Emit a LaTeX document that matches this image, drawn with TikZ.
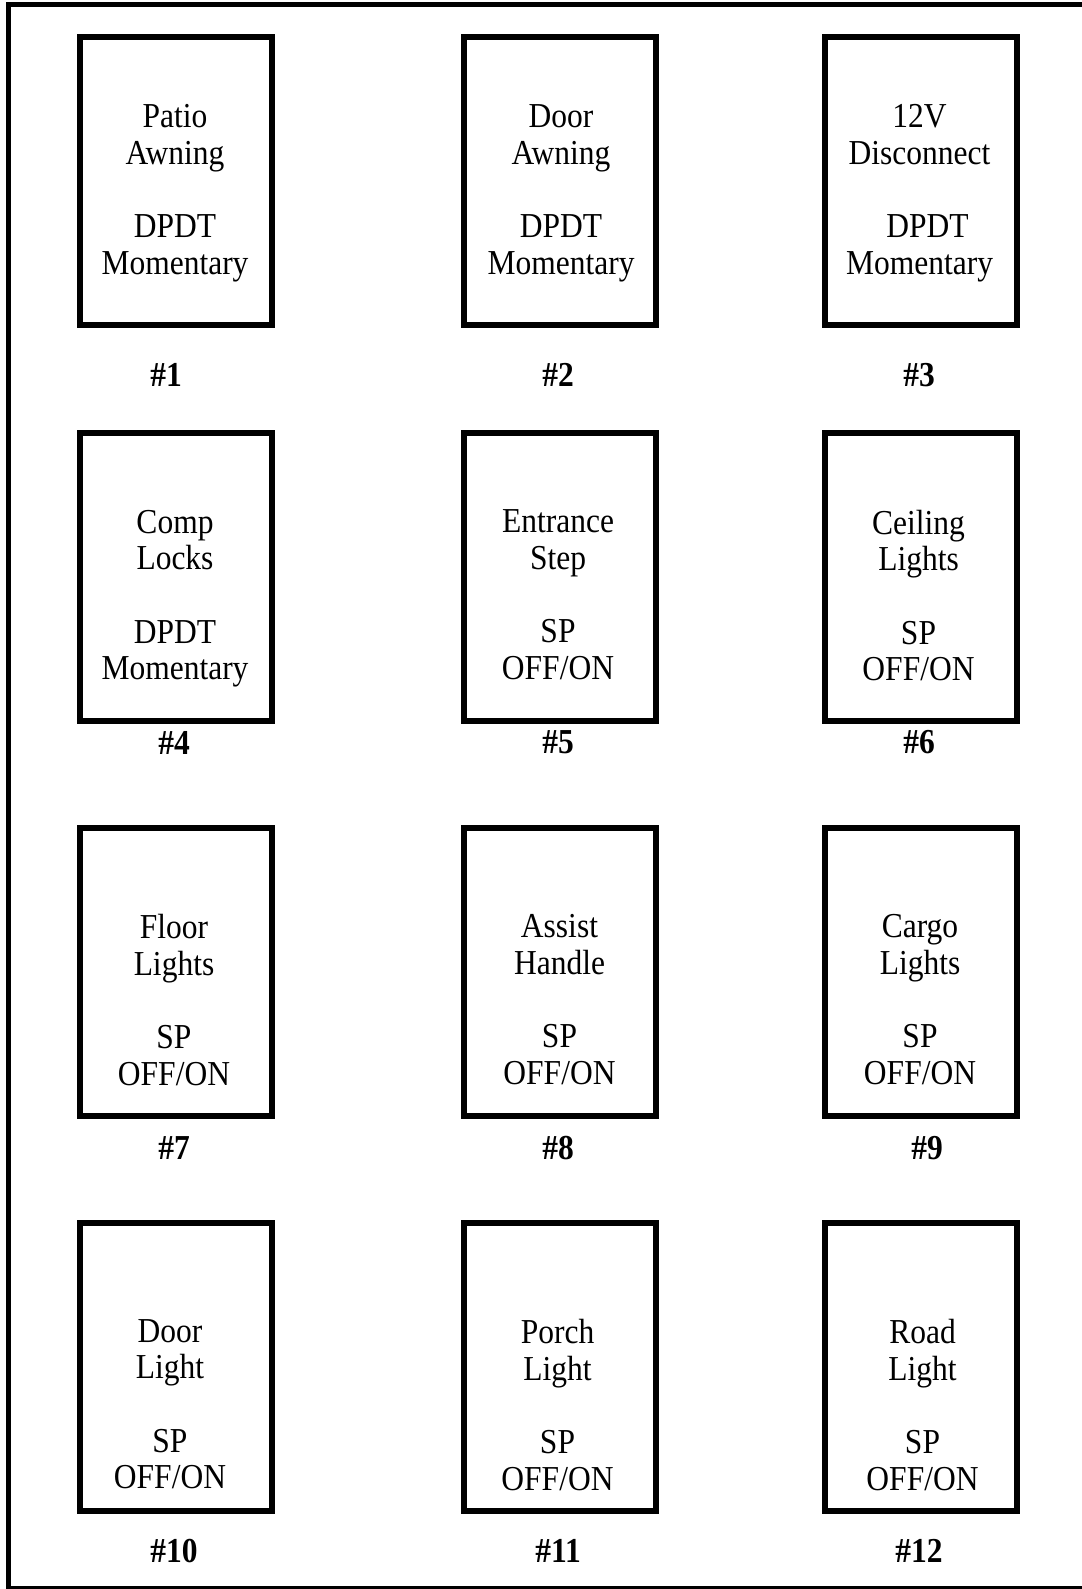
\documentclass[tikz,border=0pt]{standalone}
\usepackage{fontspec}
\setmainfont{Liberation Serif}[FakeStretch=0.9]
\usepackage{tikz}

\begin{document}
\begin{tikzpicture}[x=1pt, y=-1pt,
  switchbox/.style={draw, line width=6pt, minimum width=192pt, minimum height=288pt, inner sep=0pt},
  swtext/.style={anchor=north, align=center, inner sep=0pt, font=\fontsize{35}{36.7}\selectfont},
  swnum/.style={inner sep=0pt, font=\fontsize{35}{36.7}\selectfont\bfseries}]
  \useasboundingbox (0,0) rectangle (1081,1589);
  \draw[line width=5pt] (8.5,4.5) rectangle (1086,1588.5);
  \node[switchbox] (sw1) at (176,181.25) {};
  \node[switchbox] (sw2) at (560.25,181.25) {};
  \node[switchbox] (sw3) at (920.5,181.25) {};
  \node[switchbox] (sw4) at (176,576.5) {};
  \node[switchbox] (sw5) at (560.25,576.5) {};
  \node[switchbox] (sw6) at (920.5,576.5) {};
  \node[switchbox] (sw7) at (176,971.75) {};
  \node[switchbox] (sw8) at (560.25,971.75) {};
  \node[switchbox] (sw9) at (920.5,971.75) {};
  \node[switchbox] (sw10) at (176,1367) {};
  \node[switchbox] (sw11) at (560.25,1367) {};
  \node[switchbox] (sw12) at (920.5,1367) {};
  \node[swtext] (sw1txt) at (175,104.5) {Patio\\Awning\\[36.7pt]DPDT\\Momentary};
  \node[swtext] (sw2txt) at (561,104.5) {Door\\Awning\\[36.7pt]DPDT\\Momentary};
  \node[swtext] (sw3txt) at (919.5,104.5) {12V\\Disconnect\\[36.7pt]\hspace{16pt}DPDT\\Momentary};
  \node[swtext] (sw4txt) at (175,509.7) {Comp\\Locks\\[36.7pt]DPDT\\Momentary};
  \node[swtext] (sw5txt) at (558,509.7) {Entrance\\Step\\[36.7pt]SP\\OFF/ON};
  \node[swtext] (sw6txt) at (918.5,509.7) {Ceiling\\Lights\\[36.7pt]SP\\OFF/ON};
  \node[swtext] (sw7txt) at (174,914) {Floor\\Lights\\[36.7pt]SP\\OFF/ON};
  \node[swtext] (sw8txt) at (559.5,914) {Assist\\Handle\\[36.7pt]SP\\OFF/ON};
  \node[swtext] (sw9txt) at (920,914) {Cargo\\Lights\\[36.7pt]SP\\OFF/ON};
  \node[swtext] (sw10txt) at (170,1319) {Door\\Light\\[36.7pt]SP\\OFF/ON};
  \node[swtext] (sw11txt) at (557.5,1319) {Porch\\Light\\[36.7pt]SP\\OFF/ON};
  \node[swtext] (sw12txt) at (922.5,1319) {Road\\Light\\[36.7pt]SP\\OFF/ON};
  \node[swnum] (num1) at (166,375) {\#1};
  \node[swnum] (num2) at (558,375) {\#2};
  \node[swnum] (num3) at (919,375) {\#3};
  \node[swnum] (num4) at (174,742.5) {\#4};
  \node[swnum] (num5) at (558,742.5) {\#5};
  \node[swnum] (num6) at (919,742.5) {\#6};
  \node[swnum] (num7) at (174,1148) {\#7};
  \node[swnum] (num8) at (558,1148) {\#8};
  \node[swnum] (num9) at (927,1148) {\#9};
  \node[swnum] (num10) at (174,1551) {\#10};
  \node[swnum] (num11) at (558,1551) {\#11};
  \node[swnum] (num12) at (919,1551) {\#12};
\end{tikzpicture}
\end{document}
